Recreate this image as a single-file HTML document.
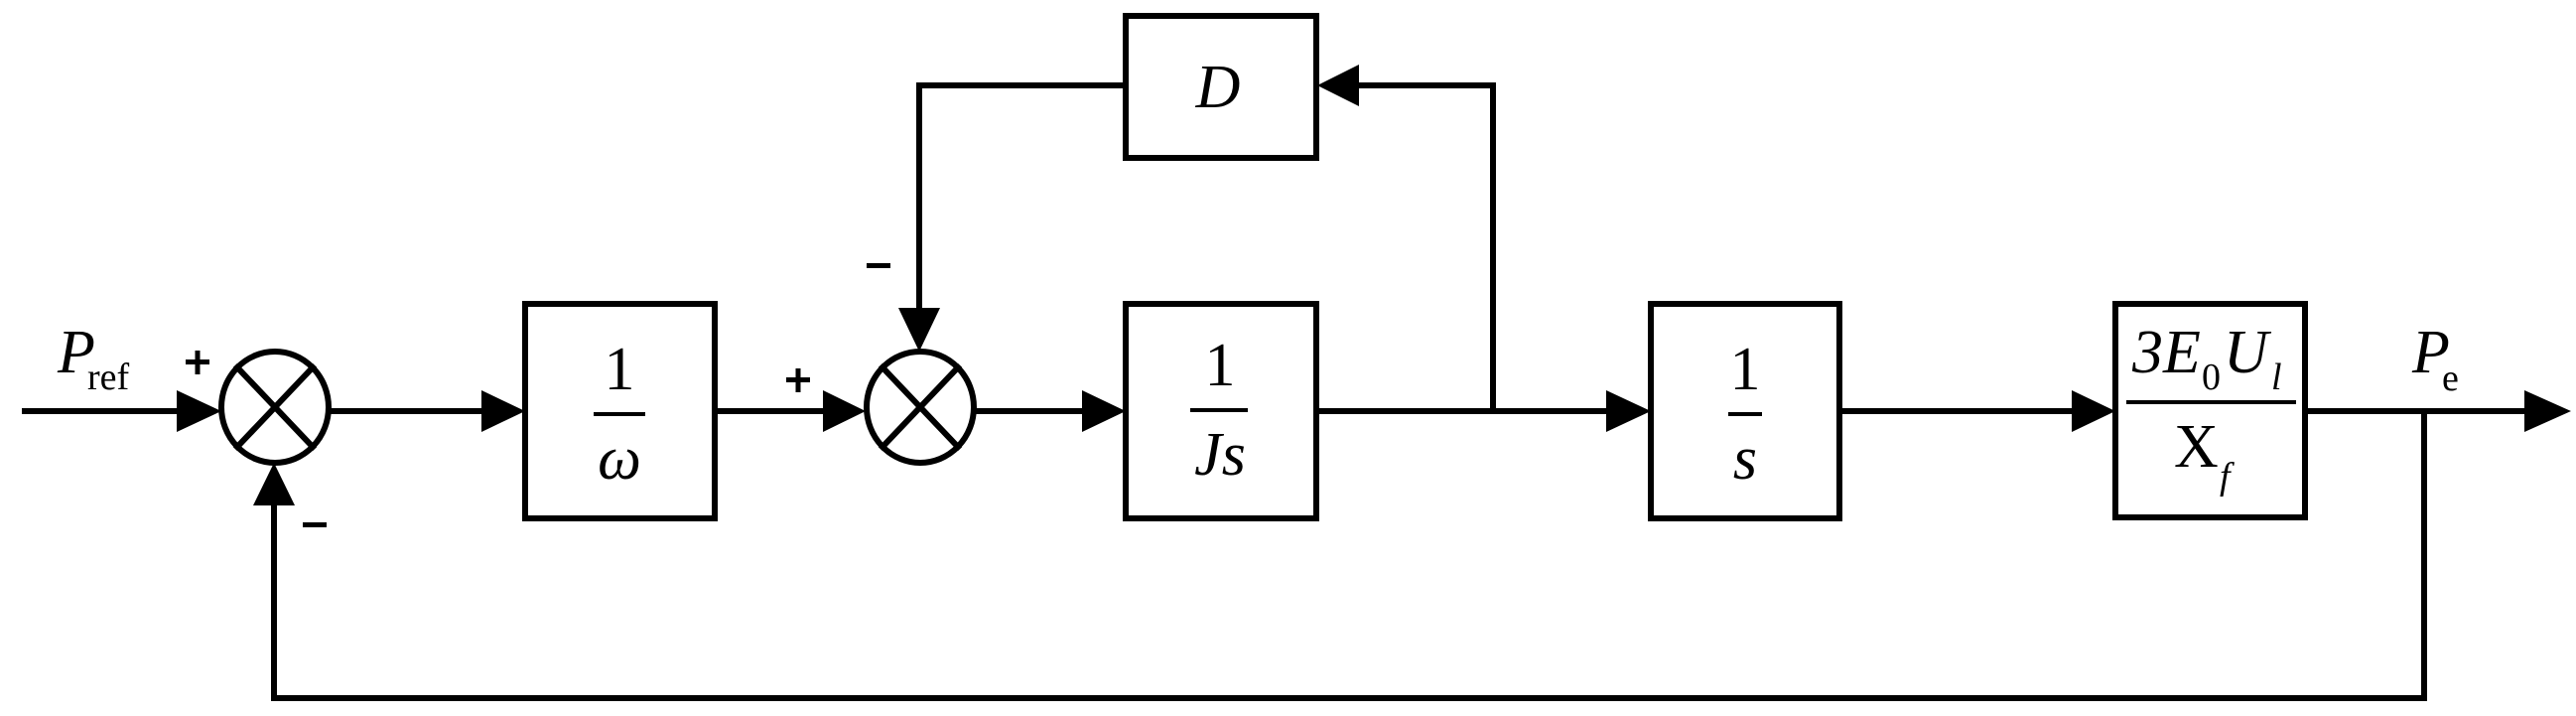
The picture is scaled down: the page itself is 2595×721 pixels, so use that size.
<!DOCTYPE html>
<html><head><meta charset="utf-8"><style>
html,body{margin:0;padding:0;background:#fff;}
svg{display:block;}
text{font-family:"Liberation Serif",serif;fill:#000;}
</style></head><body>
<svg width="2595" height="721" viewBox="0 0 2595 721" xmlns="http://www.w3.org/2000/svg">
<g stroke="#000" stroke-width="6" fill="none" stroke-linecap="square">
<!-- main lines -->
<line x1="25" y1="414" x2="180" y2="414"/>
<line x1="333" y1="414" x2="487" y2="414"/>
<line x1="720" y1="414" x2="831" y2="414"/>
<line x1="983" y1="414" x2="1092" y2="414"/>
<line x1="1327" y1="414" x2="1620" y2="414"/>
<line x1="1853" y1="414" x2="2089" y2="414"/>
<line x1="2323" y1="414" x2="2545" y2="414"/>
<!-- D loop -->
<polyline points="1504,414 1504,86 1370,86"/>
<polyline points="1134,86 926,86 926,312"/>
<!-- main feedback -->
<polyline points="2442,414 2442,703 276,703 276,507"/>
<!-- boxes -->
<rect x="1134" y="16" width="192" height="143" fill="#fff"/>
<rect x="529" y="306" width="191" height="216" fill="#fff"/>
<rect x="1134" y="306" width="192" height="216" fill="#fff"/>
<rect x="1663" y="306" width="190" height="216" fill="#fff"/>
<rect x="2131" y="306" width="191" height="215" fill="#fff"/>
<!-- sums -->
<ellipse cx="277" cy="410" rx="54" ry="56" fill="#fff"/>
<ellipse cx="927" cy="410" rx="54" ry="56" fill="#fff"/>
<line x1="239" y1="370" x2="315" y2="450"/><line x1="315" y1="370" x2="239" y2="450"/>
<line x1="889" y1="370" x2="965" y2="450"/><line x1="965" y1="370" x2="889" y2="450"/>
<!-- fraction bars -->
<line x1="600" y1="417" x2="648" y2="417" stroke-width="4"/>
<line x1="1201" y1="413" x2="1255" y2="413" stroke-width="4"/>
<line x1="1743" y1="417" x2="1773" y2="417" stroke-width="4"/>
<line x1="2144" y1="405" x2="2311" y2="405" stroke-width="4"/>
</g>
<g fill="#000">
<polygon points="178,393 223,414 178,435"/>
<polygon points="485,393 529,414 485,435"/>
<polygon points="829,393 872,414 829,435"/>
<polygon points="1090,393 1134,414 1090,435"/>
<polygon points="1618,393 1663,414 1618,435"/>
<polygon points="2087,393 2131,414 2087,435"/>
<polygon points="2543,393 2590,414 2543,435"/>
<polygon points="1369,65 1327,86 1369,107"/>
<polygon points="905,310 926,354 947,310"/>
<polygon points="255,509 276,466 297,509"/>
<!-- signs -->
<rect x="187" y="362" width="24" height="5"/><rect x="196.5" y="353" width="5" height="24"/>
<rect x="792" y="380" width="24" height="5"/><rect x="801.5" y="371" width="5" height="24"/>
<rect x="873" y="265" width="24" height="5"/>
<rect x="305" y="526" width="24" height="5"/>
</g>
<g font-style="italic">
<text x="58" y="375" font-size="62">P</text>
<text x="88" y="392" font-size="38" font-style="normal">ref</text>
<text x="1227" y="108" font-size="62" text-anchor="middle">D</text>
<text x="624" y="392" font-size="62" font-style="normal" text-anchor="middle">1</text>
<text x="624" y="482" font-size="62" text-anchor="middle">ω</text>
<text x="1229" y="388" font-size="62" font-style="normal" text-anchor="middle">1</text>
<text x="1229" y="478" font-size="62" text-anchor="middle">Js</text>
<text x="1758" y="392" font-size="62" font-style="normal" text-anchor="middle">1</text>
<text x="1758" y="482" font-size="62" text-anchor="middle">s</text>
<text x="2148" y="375" font-size="62">3E</text>
<text x="2218" y="392" font-size="38" font-style="normal">0</text>
<text x="2240" y="375" font-size="62">U</text>
<text x="2288" y="392" font-size="38">l</text>
<text x="2190" y="470" font-size="62" font-style="normal">X</text>
<text x="2236" y="492" font-size="38">f</text>
<text x="2430" y="375" font-size="62">P</text>
<text x="2460" y="393" font-size="38" font-style="normal">e</text>
</g>
</svg>
</body></html>
